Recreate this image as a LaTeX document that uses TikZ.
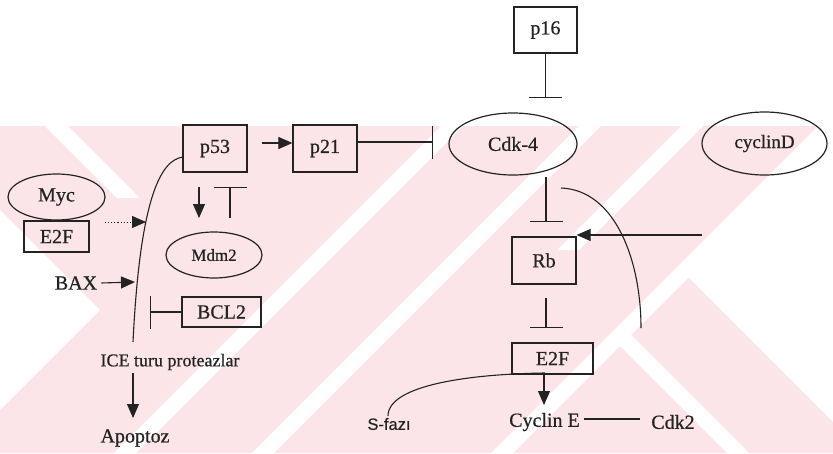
\documentclass[tikz,border=0pt]{standalone}
\usepackage{fontspec}
\setmainfont{Liberation Serif}[FakeBold=0.6]
\newfontfamily\sansf{Liberation Sans}[FakeBold=0.4]
\usetikzlibrary{arrows.meta,shapes.geometric,calc}
\definecolor{wmpink}{RGB}{251,229,232}
\definecolor{ink}{RGB}{35,35,35}
\begin{document}
\begin{tikzpicture}[x=1pt,y=-1pt,
  box/.style={draw=ink,line width=1.2pt,rectangle,inner sep=0pt,font=\fontsize{20}{24}\selectfont,text=ink},
  oval/.style={draw=ink,line width=1.2pt,ellipse,inner sep=0pt,font=\fontsize{20}{24}\selectfont,text=ink},
  lab/.style={inner sep=0pt,font=\fontsize{20}{24}\selectfont,text=ink},
  conn/.style={draw=ink,line width=1.1pt},
  arr/.style={conn,-{Triangle[length=14pt,width=12pt]}},
  inh/.style={conn,-{Bar[width=33pt]}},
]
\useasboundingbox (0,0) rectangle (833,453);
% watermark
\begin{scope}
\clip (0,126) rectangle (833,453);
\fill[wmpink] (0,126) rectangle (833,453);
\fill[white] (467,100) -- (489,100) -- (89,500) -- (67,500) -- cycle;
\fill[white] (605,100) -- (627,100) -- (227,500) -- (205,500) -- cycle;
\fill[white] (844,100) -- (866,100) -- (466,500) -- (444,500) -- cycle;
\fill[white] (707,100) -- (729,100) -- (579,250) -- (557,250) -- cycle;
\fill[white] (614.5,340.5) -- (625.5,329.5) -- (796,500) -- (774,500) -- cycle;
\fill[white] (688,277) -- (865,100) -- (950,100) -- (950,500) -- (911,500) -- cycle;
\fill[white] (100,310) -- (-50,160) -- (-50,460) -- cycle;
\fill[white] (45,126) -- (68,126) -- (140,198) -- (117,198) -- cycle;
\end{scope}

% nodes
\node[box,minimum width=63pt,minimum height=46pt] (p16) at (545.5,30) {p16};
\node[oval,minimum width=128pt,minimum height=62pt] (cdk4) at (513,144) {Cdk-4};
\node[box,minimum width=64pt,minimum height=47pt] (p21) at (325,148.5) {p21};
\node[box,minimum width=64pt,minimum height=47pt] (p53) at (215,148.5) {p53};
\node[oval,minimum width=125pt,minimum height=63pt,font=\fontsize{19}{23}\selectfont] (cycd) at (764.5,143.5) {cyclinD};
\node[oval,minimum width=97pt,minimum height=46pt] (myc) at (56.5,197) {Myc};
\node[box,minimum width=65pt,minimum height=31pt] (e2fl) at (56.5,236.5) {E2F};
\node[oval,minimum width=96pt,minimum height=46pt,font=\fontsize{17}{20}\selectfont] (mdm2) at (214,255) {Mdm2};
\node[lab] (bax) at (76,283) {BAX};
\node[box,minimum width=79pt,minimum height=30pt] (bcl2) at (221.5,312) {BCL2};
\node[lab,font=\fontsize{18}{21}\selectfont] (ice) at (170,362) {ICE turu proteazlar};
\node[lab] (apo) at (135,438) {Apoptoz};
\node[box,minimum width=64pt,minimum height=47pt] (rb) at (544,260.5) {Rb};
\node[box,minimum width=81pt,minimum height=31pt] (e2fr) at (552.5,358.5) {E2F};
\node[lab] (cyce) at (544.5,422) {Cyclin E};
\node[lab] (cdk2) at (673,422) {Cdk2};
\node[lab,font=\sansf\fontsize{16.5}{19}\selectfont] (sfaz) at (389,424) {S-fazı};

% free ends
\coordinate (p16bar) at (545.5,98);
\coordinate (p21bar) at (433,142);
\coordinate (p53a) at (262,143);
\coordinate (mdmA1) at (199,187);
\coordinate (mdmA2) at (199,218);
\coordinate (mdmI1) at (230,218);
\coordinate (mdmI2) at (230,187);
\coordinate (dotS) at (105,222);
\coordinate (dotE) at (146,222);
\coordinate (baxE) at (135,282);
\coordinate (bclbar) at (150,312);
\coordinate (cS) at (183,157);
\coordinate (cE) at (133,342);
\coordinate (iceS) at (133,373);
\coordinate (iceE) at (133,418);
\coordinate (cdkI1) at (546,177);
\coordinate (cdkI2) at (546,222);
\coordinate (rbI1) at (546,298);
\coordinate (rbI2) at (546,328);
\coordinate (e2A1) at (544,374);
\coordinate (e2A2) at (544,405);
\coordinate (rbIn) at (702,235);
\coordinate (arcS) at (561,188);
\coordinate (arcE) at (641,328);
\coordinate (sS) at (545,373);
\coordinate (sE) at (388,416);

% connectors
\draw[inh] (p16) -- (p16bar);
\draw[inh] (p21bar -| p21.east) -- (p21bar);
\draw[arr] (p53a) -- (p53a -| p21.west);
\draw[arr] (mdmA1) -- (mdmA2);
\draw[inh] (mdmI1) -- (mdmI2);
\draw[conn,dotted,line width=0.8pt,-{Triangle[length=14pt,width=12pt]}] (dotS) -- (dotE);
\draw[arr] (bax.east) ++(4,0) -- (baxE);
\draw[inh] (bcl2.west) -- (bclbar);
\draw[conn] (cS) .. controls (160,160) and (140,200) .. (cE);
\draw[arr] (iceS) -- (iceE);
\draw[inh] (cdkI1) -- (cdkI2);
\draw[inh] (rbI1) -- (rbI2);
\draw[arr] (e2A1) -- (e2A2);
\draw[conn] ([xshift=4pt]cyce.east |- 0,419) -- ([xshift=-11pt]cdk2.west |- 0,419);
\draw[arr] (rbIn) -- (rbIn -| rb.east);
\draw[conn] (arcS) .. controls (615,190) and (641,260) .. (arcE);
\draw[conn] (sS) .. controls (470,374) and (388,385) .. (sE);
\end{tikzpicture}
\end{document}
